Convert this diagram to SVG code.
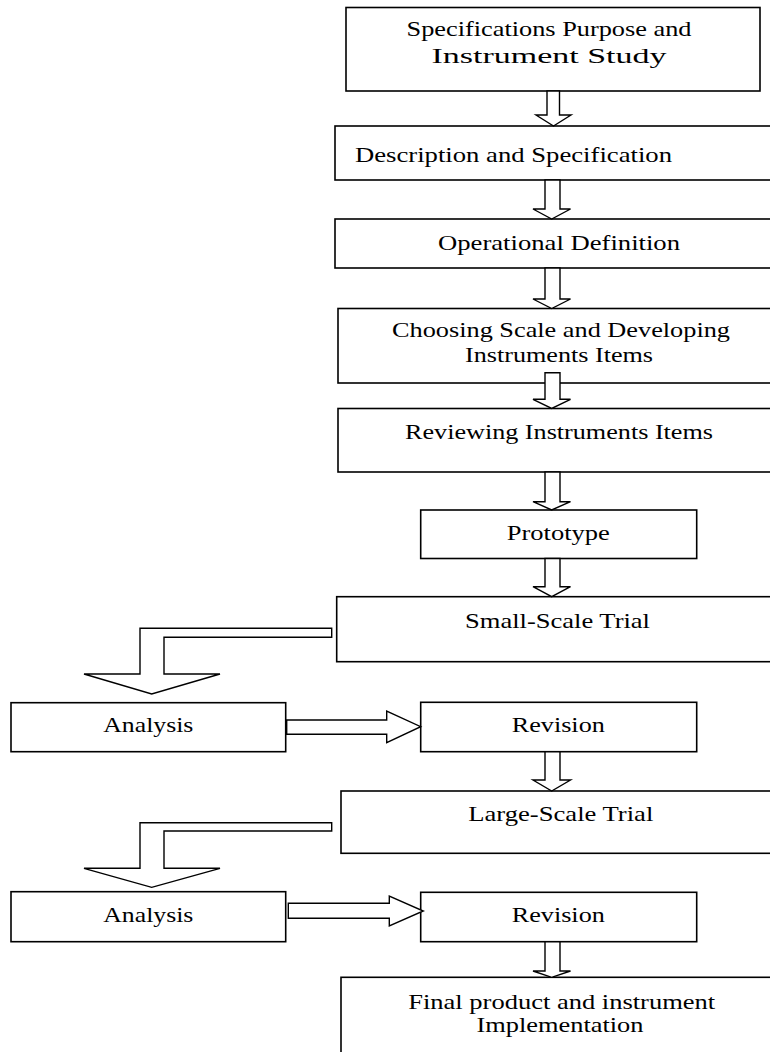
<svg xmlns="http://www.w3.org/2000/svg" width="770" height="1052" viewBox="0 0 770 1052">
<style>
.box{fill:#fff;stroke:#000;stroke-width:1.6}
.arr{fill:#fff;stroke:#000;stroke-width:1.4;stroke-linejoin:miter}
.t{font-family:'Liberation Serif','Times New Roman',Times,serif;font-size:22px;fill:#000}
.c{text-anchor:middle}
</style>
<rect width="770" height="1052" fill="#fff"/>
<g id="n1"><rect class="box" x="346" y="7.5" width="414" height="83.5"/>
<text class="t c" x="549" y="36" textLength="285" lengthAdjust="spacingAndGlyphs">Specifications Purpose and</text>
<text class="t c" x="549" y="63" textLength="235" lengthAdjust="spacingAndGlyphs">Instrument Study</text></g>
<g id="n2"><rect class="box" x="335" y="126" width="445" height="54"/>
<text class="t" x="355" y="161.5" textLength="317" lengthAdjust="spacingAndGlyphs">Description and Specification</text></g>
<g id="n3"><rect class="box" x="335" y="219" width="445" height="49"/>
<text class="t c" x="559" y="250" textLength="242" lengthAdjust="spacingAndGlyphs">Operational Definition</text></g>
<g id="n4"><rect class="box" x="338" y="308.5" width="442" height="74.5"/>
<text class="t c" x="561" y="336.5" textLength="338" lengthAdjust="spacingAndGlyphs">Choosing Scale and Developing</text>
<text class="t c" x="559" y="361.5" textLength="188" lengthAdjust="spacingAndGlyphs">Instruments Items</text></g>
<g id="n5"><rect class="box" x="338" y="408.5" width="442" height="63.5"/>
<text class="t c" x="559" y="438.5" textLength="308" lengthAdjust="spacingAndGlyphs">Reviewing Instruments Items</text></g>
<g id="n6"><rect class="box" x="420.7" y="510" width="276" height="48.5"/>
<text class="t c" x="558.3" y="540" textLength="103" lengthAdjust="spacingAndGlyphs">Prototype</text></g>
<g id="n7"><rect class="box" x="336.7" y="596.7" width="443" height="65"/>
<text class="t c" x="557.5" y="628.3" textLength="185" lengthAdjust="spacingAndGlyphs">Small-Scale Trial</text></g>
<g id="n8"><rect class="box" x="11" y="702.7" width="274.7" height="49"/>
<text class="t c" x="148.3" y="731.7" textLength="90" lengthAdjust="spacingAndGlyphs">Analysis</text></g>
<g id="n9"><rect class="box" x="420.7" y="702.3" width="276" height="49.4"/>
<text class="t c" x="558.3" y="732.3" textLength="93" lengthAdjust="spacingAndGlyphs">Revision</text></g>
<g id="n10"><rect class="box" x="341" y="791" width="439" height="62.3"/>
<text class="t c" x="560.8" y="821" textLength="185" lengthAdjust="spacingAndGlyphs">Large-Scale Trial</text></g>
<g id="n11"><rect class="box" x="11" y="891.7" width="274.7" height="50"/>
<text class="t c" x="148.3" y="921.7" textLength="90" lengthAdjust="spacingAndGlyphs">Analysis</text></g>
<g id="n12"><rect class="box" x="420.7" y="892.3" width="276" height="49.4"/>
<text class="t c" x="558.3" y="922.3" textLength="93" lengthAdjust="spacingAndGlyphs">Revision</text></g>
<g id="n13"><rect class="box" x="341" y="977.3" width="439" height="90"/>
<text class="t c" x="561.7" y="1009" textLength="307" lengthAdjust="spacingAndGlyphs">Final product and instrument</text>
<text class="t c" x="560" y="1032" textLength="167" lengthAdjust="spacingAndGlyphs">Implementation</text></g>
<g id="connectors">
<path class="arr" d="M547,91 L559.5,91 L559.5,115 L571,115 L553.5,126 L536,115 L547,115 Z"/>
<path class="arr" d="M545,180 L560,180 L560,209 L570.5,209 L551.7,219 L533,209 L545,209 Z"/>
<path class="arr" d="M545,268 L560,268 L560,299 L570.5,299 L551.7,308.5 L533,299 L545,299 Z"/>
<path class="arr" d="M545,372.7 L560,372.7 L560,399.3 L570.5,399.3 L551.7,408.5 L533,399.3 L545,399.3 Z"/>
<path class="arr" d="M545,472 L560,472 L560,501.7 L570.5,501.7 L551.7,510 L533,501.7 L545,501.7 Z"/>
<path class="arr" d="M545,558.5 L560,558.5 L560,586.7 L570.5,586.7 L551.7,596.7 L533,586.7 L545,586.7 Z"/>
<path class="arr" d="M331.7,628.3 L140,628.3 L140,674 L84,674 L151.7,694 L220,674 L164,674 L164,637.3 L331.7,637.3 Z"/>
<path class="arr" d="M286.7,720 L386.7,720 L386.7,711 L420.7,726.7 L386.7,742.7 L386.7,734.3 L286.7,734.3 Z"/>
<path class="arr" d="M545,751.7 L560,751.7 L560,780 L570.5,780 L551.7,791 L533,780 L545,780 Z"/>
<path class="arr" d="M331.7,822.7 L140,822.7 L140,868.3 L84,868.3 L151.7,887.3 L220,868.3 L164,868.3 L164,831 L331.7,831 Z"/>
<path class="arr" d="M288.3,903.3 L389.3,903.3 L389.3,896 L423.3,911 L389.3,926 L389.3,918.3 L288.3,918.3 Z"/>
<path class="arr" d="M545,941.7 L560,941.7 L560,971 L570.5,971 L551.7,977.3 L533,971 L545,971 Z"/>
</g>
</svg>
